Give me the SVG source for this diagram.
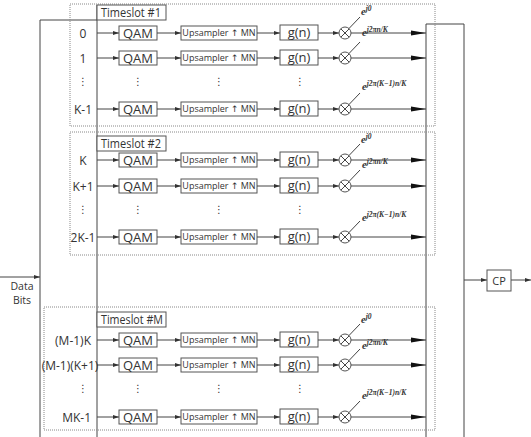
<svg xmlns="http://www.w3.org/2000/svg" width="531" height="437" viewBox="0 0 531 437">
<defs>
<marker id="sm" markerWidth="6" markerHeight="4" refX="6" refY="2" orient="auto" markerUnits="userSpaceOnUse"><path d="M0,0 L6,2 L0,4 Z" fill="#333"/></marker>
<marker id="big" markerWidth="15" markerHeight="6" refX="15" refY="3" orient="auto" markerUnits="userSpaceOnUse"><path d="M0,0.5 L15,3 L0,5.5 Z" fill="#111"/></marker>
</defs>
<style>
.ln{stroke:#444;stroke-width:1;fill:none}
.bx{stroke:#555;stroke-width:1;fill:#fff}
.slot{stroke:#888;stroke-width:1;fill:none;stroke-dasharray:1,1}
.t{font-family:"Open Sans","DejaVu Sans",sans-serif;fill:#333}
.lbl{font-size:12px}
.ttl{font-size:12px}
.qam{font-size:13px;text-anchor:middle}
.up{font-size:9px;text-anchor:middle}
.dots{font-size:10px;text-anchor:middle}
.ex{font-family:"Liberation Serif","DejaVu Serif",serif;font-style:italic;font-weight:bold;fill:#333;font-size:10.5px}
.ex tspan{font-size:7.5px}
</style>

<g id="connectors">
<line class="ln" x1="0" y1="277" x2="40" y2="277" marker-end="url(#sm)"/>
<line class="ln" x1="40" y1="20" x2="40" y2="437"/>
<line class="ln" x1="40" y1="20" x2="97" y2="20"/>
<line class="ln" x1="97" y1="5" x2="97" y2="437"/>
<line class="ln" x1="426" y1="24" x2="426" y2="437"/>
<line class="ln" x1="464" y1="24" x2="464" y2="437"/>
<line class="ln" x1="426" y1="24" x2="464" y2="24"/>
<line class="ln" x1="464" y1="280" x2="487" y2="280" marker-end="url(#sm)"/>
<line class="ln" x1="511" y1="280" x2="531" y2="280" marker-end="url(#sm)"/>
</g>

<g id="timeslot1">
<rect class="slot" x="70" y="4" width="365" height="122"/>
<rect class="bx" x="97" y="5" width="69" height="15"/>
<text class="t ttl" x="101" y="17" textLength="60" lengthAdjust="spacingAndGlyphs">Timeslot #1</text>
</g>
<g id="timeslot2">
<rect class="slot" x="70" y="132" width="365" height="123"/>
<rect class="bx" x="97" y="136" width="69" height="15"/>
<text class="t ttl" x="101" y="148" textLength="60" lengthAdjust="spacingAndGlyphs">Timeslot #2</text>
</g>
<g id="timeslotM">
<rect class="slot" x="44" y="307" width="391" height="123"/>
<rect class="bx" x="97" y="312" width="69" height="15"/>
<text class="t ttl" x="101" y="324" textLength="62" lengthAdjust="spacingAndGlyphs">Timeslot #M</text>
</g>

<g id="cp">
<rect class="bx" x="487" y="270" width="24" height="21"/>
<text class="t" x="499" y="284.5" font-size="11" text-anchor="middle">CP</text>
</g>
<g id="databits">
<text class="t" x="22" y="290" font-size="10.5" text-anchor="middle">Data</text>
<text class="t" x="22" y="304" font-size="10.5" text-anchor="middle">Bits</text>
</g>

<defs>
<g id="row">
<line class="ln" x1="97" y1="0" x2="119" y2="0" marker-end="url(#sm)"/>
<rect class="bx" x="119" y="-7" width="38" height="14"/>
<text class="t qam" x="138" y="4.5">QAM</text>
<line class="ln" x1="157" y1="0" x2="181" y2="0" marker-end="url(#sm)"/>
<rect class="bx" x="181" y="-7" width="76" height="14"/>
<text class="t up" x="219" y="3">Upsampler ↑ MN</text>
<line class="ln" x1="257" y1="0" x2="280" y2="0" marker-end="url(#sm)"/>
<rect class="bx" x="280" y="-8" width="38" height="15"/>
<text class="t qam" x="299" y="4">g(n)</text>
<line class="ln" x1="318" y1="0" x2="339" y2="0" marker-end="url(#sm)"/>
<circle class="bx" cx="345" cy="0" r="6"/>
<path class="ln" d="M340.8,-4.2 L349.2,4.2 M340.8,4.2 L349.2,-4.2"/>
<line class="ln" x1="349" y1="-4.5" x2="360" y2="-16"/>
<line class="ln" x1="351" y1="0" x2="426" y2="0" marker-end="url(#big)"/>
</g>
<g id="dotrow">
<text class="t dots" x="138" y="3">⋮</text>
<text class="t dots" x="219" y="3">⋮</text>
<text class="t dots" x="300" y="3">⋮</text>
</g>
</defs>

<g id="slot1rows">
<use href="#row" y="33"/>
<use href="#row" y="58"/>
<use href="#dotrow" y="82"/>
<use href="#row" y="109"/>
<text class="t lbl" x="83" y="37.5" text-anchor="middle">0</text>
<text class="t lbl" x="83" y="62.5" text-anchor="middle">1</text>
<text class="t dots" x="83" y="85">⋮</text>
<text class="t lbl" x="83" y="113.5" text-anchor="middle">K-1</text>
<text class="ex" x="361" y="15">e<tspan dy="-4.5">j0</tspan></text>
<text class="ex" x="362" y="36">e<tspan dy="-4.5">j2πn/K</tspan></text>
<text class="ex" x="362" y="90">e<tspan dy="-4.5">j2π(K−1)n/K</tspan></text>
</g>

<g id="slot2rows">
<use href="#row" y="160"/>
<use href="#row" y="186"/>
<use href="#dotrow" y="210"/>
<use href="#row" y="237"/>
<text class="t lbl" x="83" y="164.5" text-anchor="middle">K</text>
<text class="t lbl" x="83" y="190.5" text-anchor="middle">K+1</text>
<text class="t dots" x="83" y="213">⋮</text>
<text class="t lbl" x="83" y="241.5" text-anchor="middle">2K-1</text>
<text class="ex" x="361" y="143">e<tspan dy="-4.5">j0</tspan></text>
<text class="ex" x="362" y="168">e<tspan dy="-4.5">j2πn/K</tspan></text>
<text class="ex" x="362" y="221">e<tspan dy="-4.5">j2π(K−1)n/K</tspan></text>
</g>

<g id="slotMrows">
<use href="#row" y="340"/>
<use href="#row" y="365"/>
<use href="#dotrow" y="389"/>
<use href="#row" y="417"/>
<text class="t lbl" x="91" y="344.5" text-anchor="end">(M-1)K</text>
<text class="t lbl" x="70" y="369.5" text-anchor="middle">(M-1)(K+1)</text>
<text class="t dots" x="83" y="392">⋮</text>
<text class="t lbl" x="91" y="421.5" text-anchor="end">MK-1</text>
<text class="ex" x="361" y="323">e<tspan dy="-4.5">j0</tspan></text>
<text class="ex" x="362" y="349">e<tspan dy="-4.5">j2πn/K</tspan></text>
<text class="ex" x="362" y="399">e<tspan dy="-4.5">j2π(K−1)n/K</tspan></text>
</g>
</svg>
